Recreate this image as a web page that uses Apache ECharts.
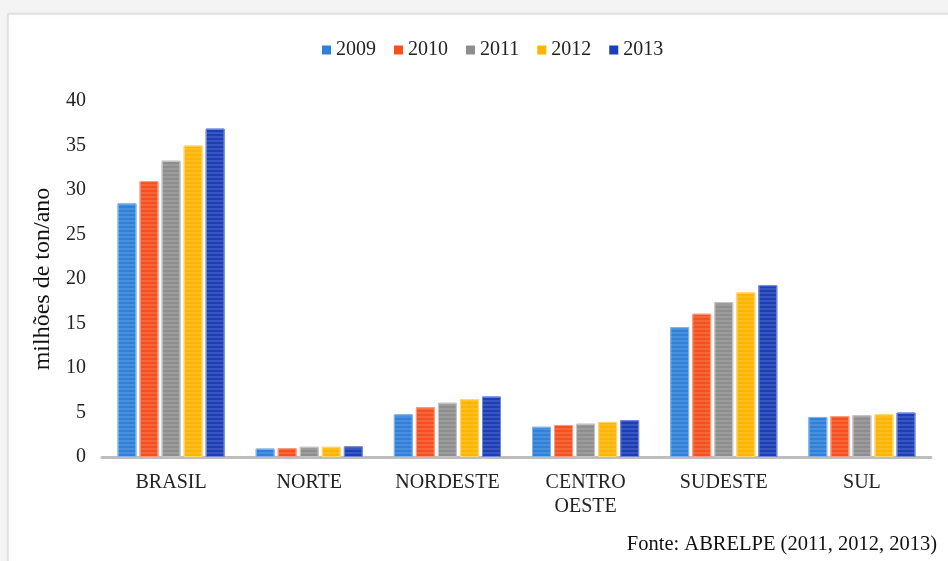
<!DOCTYPE html>
<html>
<head>
<meta charset="utf-8">
<script src="https://cdn.jsdelivr.net/npm/echarts@6/dist/echarts.min.js"></script>
<style>
  html, body { margin: 0; padding: 0; background: #f4f4f4; }
  #chart { width: 948px; height: 561px; }
</style>
</head>
<body>
<div id="chart"></div>
<script>
// regiões e anos
const regioes = ['BRASIL', 'NORTE', 'NORDESTE', 'CENTRO\nOESTE', 'SUDESTE', 'SUL'];
const anos = ['2009', '2010', '2011', '2012', '2013'];

// milhões de ton/ano
const v2009 = [28.5, 0.95, 4.8, 3.4, 14.6, 4.5];
const v2010 = [31.0, 1.0, 5.6, 3.6, 16.1, 4.6];
const v2011 = [33.3, 1.15, 6.1, 3.75, 17.4, 4.7];
const v2012 = [35.0, 1.15, 6.5, 3.95, 18.5, 4.8];
const v2013 = [36.9, 1.2, 6.8, 4.15, 19.3, 5.0];
const valores = [v2009, v2010, v2011, v2012, v2013];

const cores = ['#2f80d9', '#f4511e', '#8e8e8e', '#ffb400', '#1b3fb6'];
const bordas = ['#7fb4ec', '#f99a7c', '#c4c4c4', '#ffd56e', '#6f87d8'];

const fonte = 'Liberation Serif';

const chart = echarts.init(document.getElementById('chart'));

const series = anos.map(function (ano, i) {
    return {
        name: ano,
        type: 'bar',
        data: valores[i],
        barWidth: 19,
        barGap: '16%',
        itemStyle: {
            color: cores[i],
            borderColor: bordas[i],
            borderWidth: 1,
            decal: {
                symbol: 'rect',
                dashArrayX: [1, 0],
                dashArrayY: [2, 2],
                color: 'rgba(255,255,255,0.12)',
                rotation: 0
            }
        }
    };
});

chart.setOption({
    backgroundColor: 'transparent',
    animation: false,
    graphic: [{
        type: 'rect',
        z: -10,
        shape: { x: 8, y: 14, width: 980, height: 600 },
        style: {
            fill: '#ffffff',
            stroke: '#d2d2d2',
            lineWidth: 1,
            shadowColor: 'rgba(0,0,0,0.08)',
            shadowBlur: 4
        }
    }, {
        type: 'text',
        right: 11,
        top: 534,
        style: {
            text: 'Fonte: ABRELPE (2011, 2012, 2013)',
            font: '20.5px "' + fonte + '"',
            fill: '#111'
        }
    }],
    legend: {
        top: 35,
        left: 317,
        itemWidth: 9,
        itemHeight: 9,
        itemGap: 18,
        icon: 'rect',
        itemStyle: { borderWidth: 0, decal: 'none' },
        textStyle: { fontFamily: fonte, fontSize: 20, color: '#222', padding: [0, 0, 0, 0] },
        data: anos
    },
    grid: { left: 102, right: 17, top: 101, bottom: 104 },
    xAxis: {
        type: 'category',
        data: regioes,
        axisLine: { lineStyle: { color: '#bdbdbd', width: 3 } },
        axisTick: { show: false },
        axisLabel: {
            fontFamily: fonte,
            fontSize: 20,
            color: '#222',
            margin: 14,
            lineHeight: 24
        }
    },
    yAxis: {
        type: 'value',
        min: 0,
        max: 40,
        interval: 5,
        name: 'milhões de ton/ano',
        nameLocation: 'middle',
        nameGap: 44,
        nameRotate: 90,
        nameTextStyle: { fontFamily: fonte, fontSize: 24, color: '#111' },
        axisLine: { show: false },
        axisTick: { show: false },
        splitLine: { show: false },
        axisLabel: { fontFamily: fonte, fontSize: 20, color: '#222', margin: 16 }
    },
    series: series
});
</script>
</body>
</html>
